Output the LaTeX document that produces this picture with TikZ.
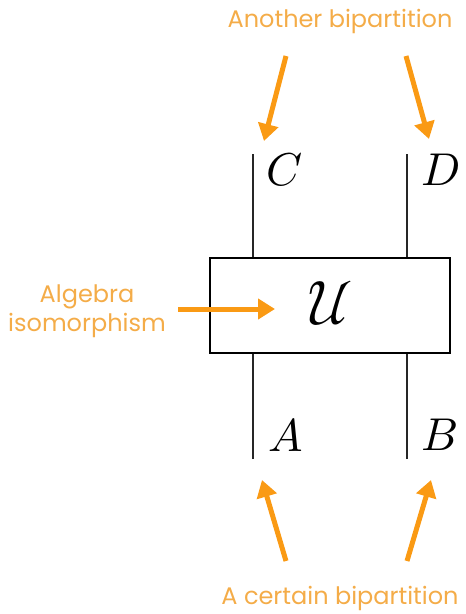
\documentclass[tikz,border=0pt]{standalone}
\usepackage{fontspec}
\setmainfont{Poppins}
\usepackage{unicode-math}
\setmathfont{Latin Modern Math}
\usetikzlibrary{arrows.meta}
\definecolor{orangetext}{HTML}{F4AC48}
\definecolor{orangearrow}{HTML}{FA9A14}
\tikzset{
  lbl/.style={font=\fontsize{24}{29}\selectfont, text=orangetext, inner sep=0pt},
  oarrow/.style={draw=orangearrow, line width=5pt, -{Triangle[width=20pt,length=17pt]}},
  wire/.style={draw=black!85, line width=1.8pt},
  mathlbl/.style={font=\fontsize{46}{50}\selectfont, inner sep=0pt, anchor=west}
}
\begin{document}
\begin{tikzpicture}[x=1pt,y=-1pt]
\useasboundingbox (0,0) rectangle (466,614);
\node[draw=black, line width=1.8pt, minimum width=240pt, minimum height=95pt, inner sep=0pt] (U) at (330,305.5) {};
\node[font=\fontsize{62}{66}\selectfont, inner sep=0pt] (Ulbl) at (331,303) {$\mathcal{U}$};
% wires
\coordinate (ctop) at (253,154);
\coordinate (dtop) at (407,154);
\coordinate (abot) at (253,459);
\coordinate (bbot) at (407,459);
\draw[wire] (ctop) -- (ctop |- U.north);
\draw[wire] (dtop) -- (dtop |- U.north);
\draw[wire] (abot) -- (abot |- U.south);
\draw[wire] (bbot) -- (bbot |- U.south);
% math labels
\node[mathlbl] (C) at (266,170) {$C$};
\node[mathlbl] (D) at (421,170) {$D$};
\node[mathlbl] (A) at (268,435) {$A$};
\node[mathlbl] (B) at (421,435) {$B$};
% texts
\node[lbl] (top) at (340,21) {Another bipartition};
\node[lbl] (bot) at (340,598) {A certain bipartition};
\node[lbl, align=center] (alg) at (87,311) {Algebra\\isomorphism};
% arrows
\coordinate (t1s) at (286,56);
\coordinate (t1e) at (264,141);
\coordinate (t2s) at (406,56);
\coordinate (t2e) at (429,139);
\coordinate (b1s) at (286,561);
\coordinate (b1e) at (262,480);
\coordinate (b2s) at (407,561);
\coordinate (b2e) at (431,480);
\coordinate (ls) at (178,309);
\coordinate (le) at (275,309);
\draw[oarrow] (t1s) -- (t1e);
\draw[oarrow] (t2s) -- (t2e);
\draw[oarrow] (b1s) -- (b1e);
\draw[oarrow] (b2s) -- (b2e);
\draw[oarrow] (ls) -- (le);
\end{tikzpicture}
\end{document}
